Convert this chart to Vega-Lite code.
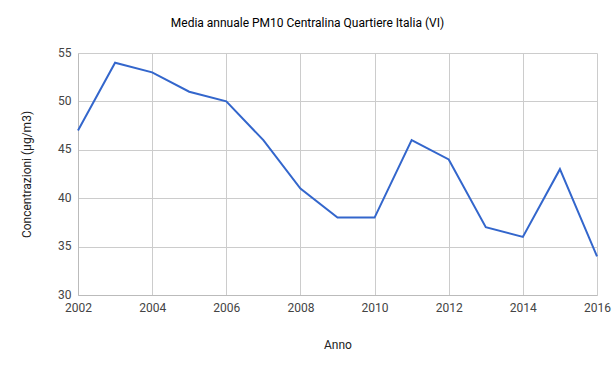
{
  "$schema": "https://vega.github.io/schema/vega-lite/v6.json",
  "autosize": "none",
  "width": 519,
  "height": 242,
  "padding": {"left": 78, "top": 53, "right": 18, "bottom": 72},
  "background": "white",
  "config": {
    "font": "Roboto",
    "view": {"stroke": null}
  },
  "title": {
    "text": "Media annuale PM10 Centralina Quartiere Italia (VI)",
    "fontSize": 12,
    "fontWeight": "normal",
    "color": "#000000",
    "anchor": "middle",
    "frame": "group",
    "dx": -30,
    "offset": 16
  },
  "data": {
    "values": [
      {"Anno": 2002, "Valore": 47},
      {"Anno": 2003, "Valore": 54},
      {"Anno": 2004, "Valore": 53},
      {"Anno": 2005, "Valore": 51},
      {"Anno": 2006, "Valore": 50},
      {"Anno": 2007, "Valore": 46},
      {"Anno": 2008, "Valore": 41},
      {"Anno": 2009, "Valore": 38},
      {"Anno": 2010, "Valore": 38},
      {"Anno": 2011, "Valore": 46},
      {"Anno": 2012, "Valore": 44},
      {"Anno": 2013, "Valore": 37},
      {"Anno": 2014, "Valore": 36},
      {"Anno": 2015, "Valore": 43},
      {"Anno": 2016, "Valore": 34}
    ]
  },
  "mark": {"type": "line", "color": "#3366cc", "strokeWidth": 2},
  "encoding": {
    "x": {
      "field": "Anno",
      "type": "quantitative",
      "scale": {"domain": [2002, 2016], "nice": false, "zero": false},
      "axis": {
        "values": [2002, 2004, 2006, 2008, 2010, 2012, 2014, 2016],
        "format": "d",
        "title": "Anno",
        "titleFontSize": 12,
        "titleFontWeight": "normal",
        "titleColor": "#222222",
        "titlePadding": 26,
        "labelFontSize": 12,
        "labelColor": "#444444",
        "labelPadding": 7,
        "ticks": false,
        "domainColor": "#bbbbbb",
        "gridColor": "#cccccc",
        "labelFlush": false
      }
    },
    "y": {
      "field": "Valore",
      "type": "quantitative",
      "scale": {"domain": [30, 55], "nice": false, "zero": false},
      "axis": {
        "values": [30, 35, 40, 45, 50, 55],
        "title": "Concentrazioni (µg/m3)",
        "titleFontSize": 12,
        "titleFontWeight": "normal",
        "titleColor": "#222222",
        "titlePadding": 24,
        "labelFontSize": 12,
        "labelColor": "#444444",
        "labelPadding": 7,
        "labelBaseline": "bottom",
        "labelOffset": 6,
        "ticks": false,
        "domainColor": "#bbbbbb",
        "gridColor": "#cccccc"
      }
    }
  }
}
